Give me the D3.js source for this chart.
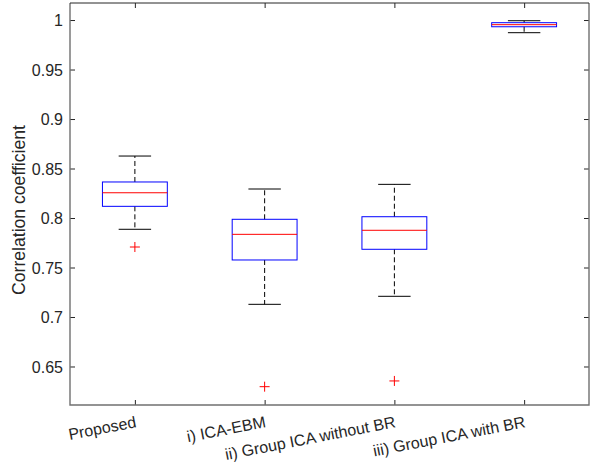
<!DOCTYPE html>
<html>
<head>
<meta charset="utf-8">
<script src="https://cdn.jsdelivr.net/npm/d3@7"></script>
<style>
  body { margin: 0; background: #fff; }
  text { font-family: "Liberation Sans", Arial, sans-serif; fill: #262626; }
</style>
</head>
<body>
<script>
var w = 592;
var h = 468;

// box plot statistics
var categories = ["Proposed", "i) ICA-EBM", "ii) Group ICA without BR", "iii) Group ICA with BR"];
var whiskerLow  = [0.7886, 0.7128, 0.7209, 0.9872];
var q1          = [0.8118, 0.7576, 0.7684, 0.9932];
var median      = [0.8255, 0.7835, 0.7876, 0.9953];
var q3          = [0.8364, 0.7987, 0.8013, 0.9973];
var whiskerHigh = [0.8626, 0.8293, 0.8340, 0.9993];
var outliers    = [[0.7707], [0.6296], [0.6354], []];
var yTicks = [0.65, 0.7, 0.75, 0.8, 0.85, 0.9, 0.95, 1];

// plot area edges (note: "top" is reserved on window)
var axL = 70, axR = 589, axT = 3, axB = 405;

var xScale = d3.scaleLinear()
    .domain([0.5, 4.5])
    .range([axL, axR]);

var yScale = d3.scaleLinear()
    .domain([0.6111, 1.0172])
    .range([axB, axT]);

var svg = d3.select("body")
    .append("svg")
    .attr("width", w)
    .attr("height", h);

// axes (ticks pointing inward like matlab)
svg.append("g")
    .attr("transform", "translate(" + axL + ",0)")
    .call(d3.axisRight(yScale).tickValues(yTicks).tickSize(5).tickFormat(""))
    .call(function(g) { g.select(".domain").remove(); });

svg.append("g")
    .attr("transform", "translate(" + axR + ",0)")
    .call(d3.axisLeft(yScale).tickValues(yTicks).tickSize(5).tickFormat(""))
    .call(function(g) { g.select(".domain").remove(); });

svg.append("g")
    .attr("transform", "translate(0," + axB + ")")
    .call(d3.axisTop(xScale).tickValues([1, 2, 3, 4]).tickSize(5).tickFormat(""))
    .call(function(g) { g.select(".domain").remove(); });

svg.append("g")
    .attr("transform", "translate(0," + axT + ")")
    .call(d3.axisBottom(xScale).tickValues([1, 2, 3, 4]).tickSize(5).tickFormat(""))
    .call(function(g) { g.select(".domain").remove(); });

svg.selectAll(".tick line").attr("stroke", "#262626");

// box around the plot: left/bottom/right gray, top darker
svg.append("path")
    .attr("d", "M" + axR + "," + axT + "V" + axB + "H" + axL + "V" + axT)
    .attr("fill", "none")
    .attr("stroke", "#707070")
    .attr("stroke-width", 1.4);

svg.append("line")
    .attr("x1", axL).attr("x2", axR)
    .attr("y1", axT).attr("y2", axT)
    .attr("stroke", "#262626");

// y tick labels
svg.selectAll(".ylab")
    .data(yTicks)
    .enter()
    .append("text")
    .attr("class", "ylab")
    .attr("x", axL - 7)
    .attr("y", function(d) { return yScale(d); })
    .attr("dy", "0.38em")
    .attr("text-anchor", "end")
    .style("font-size", "16px")
    .text(function(d) { return d; });

// x tick labels, rotated
svg.selectAll(".xlab")
    .data(categories)
    .enter()
    .append("text")
    .attr("class", "xlab")
    .attr("text-anchor", "end")
    .style("font-size", "16px")
    .attr("transform", function(d, i) {
        return "translate(" + (xScale(i + 1) + 2) + "," + (axB + 22) + ") rotate(-11)";
    })
    .text(function(d) { return d; });

svg.append("text")
    .attr("transform", "translate(25,210) rotate(-90)")
    .attr("text-anchor", "middle")
    .style("font-size", "17.6px")
    .text("Correlation coefficient");

var boxHalf = 0.25, capHalf = 0.125;
var idx = d3.range(categories.length);

var g = svg.append("g");

// whiskers
g.selectAll(".wup")
    .data(idx).enter().append("line")
    .attr("x1", function(i) { return xScale(i + 1); })
    .attr("x2", function(i) { return xScale(i + 1); })
    .attr("y1", function(i) { return yScale(q3[i]); })
    .attr("y2", function(i) { return yScale(whiskerHigh[i]); })
    .attr("stroke", "#000").attr("stroke-dasharray", "5,3");

g.selectAll(".wlo")
    .data(idx).enter().append("line")
    .attr("x1", function(i) { return xScale(i + 1); })
    .attr("x2", function(i) { return xScale(i + 1); })
    .attr("y1", function(i) { return yScale(q1[i]); })
    .attr("y2", function(i) { return yScale(whiskerLow[i]); })
    .attr("stroke", "#000").attr("stroke-dasharray", "5,3");

// caps
[whiskerHigh, whiskerLow].forEach(function(arr) {
    g.selectAll(null)
        .data(idx).enter().append("line")
        .attr("x1", function(i) { return xScale(i + 1 - capHalf); })
        .attr("x2", function(i) { return xScale(i + 1 + capHalf); })
        .attr("y1", function(i) { return yScale(arr[i]); })
        .attr("y2", function(i) { return yScale(arr[i]); })
        .attr("stroke", "#000");
});

// boxes
g.selectAll(".box")
    .data(idx).enter().append("rect")
    .attr("x", function(i) { return xScale(i + 1 - boxHalf); })
    .attr("width", function(i) { return xScale(i + 1 + boxHalf) - xScale(i + 1 - boxHalf); })
    .attr("y", function(i) { return yScale(q3[i]); })
    .attr("height", function(i) { return yScale(q1[i]) - yScale(q3[i]); })
    .attr("fill", "none")
    .attr("stroke", "#0000ff");

// medians
g.selectAll(".med")
    .data(idx).enter().append("line")
    .attr("x1", function(i) { return xScale(i + 1 - boxHalf); })
    .attr("x2", function(i) { return xScale(i + 1 + boxHalf); })
    .attr("y1", function(i) { return yScale(median[i]); })
    .attr("y2", function(i) { return yScale(median[i]); })
    .attr("stroke", "#ff0000");

// outliers as red +
var pts = [];
outliers.forEach(function(o, i) { o.forEach(function(v) { pts.push([i + 1, v]); }); });

g.selectAll(".out")
    .data(pts).enter().append("path")
    .attr("d", function(d) {
        var x = xScale(d[0]), y = yScale(d[1]);
        return "M" + (x - 5) + "," + y + "H" + (x + 5) + "M" + x + "," + (y - 5) + "V" + (y + 5);
    })
    .attr("stroke", "#ff0000")
    .attr("fill", "none");
</script>
</body>
</html>
